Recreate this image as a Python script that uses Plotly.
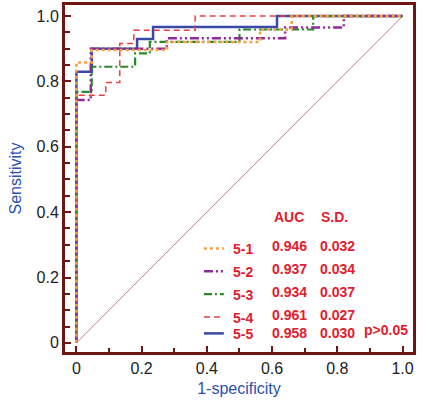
import plotly.graph_objects as go

# ROC step curves (1-specificity, sensitivity)
fpr_51 = [0, 0, 0.047, 0.278, 0.563, 0.66, 1.0]
tpr_51 = [0, 0.858, 0.896, 0.921, 0.959, 1.0, 1.0]
fpr_52 = [0, 0, 0.044, 0.277, 0.64, 0.82, 1.0]
tpr_52 = [0, 0.743, 0.90, 0.932, 0.965, 1.0, 1.0]
fpr_53 = [0, 0, 0.047, 0.18, 0.225, 0.5, 0.726, 1.0]
tpr_53 = [0, 0.768, 0.845, 0.886, 0.921, 0.959, 1.0, 1.0]
fpr_54 = [0, 0, 0.09, 0.133, 0.176, 0.364, 1.0]
tpr_54 = [0, 0.758, 0.797, 0.916, 0.957, 1.0, 1.0]
fpr_55 = [0, 0, 0.047, 0.186, 0.235, 0.615, 1.0]
tpr_55 = [0, 0.83, 0.90, 0.93, 0.967, 1.0, 1.0]
diag = [0, 1]

names = ["5-1", "5-2", "5-3", "5-4", "5-5"]
auc = ["0.946", "0.937", "0.934", "0.961", "0.958"]
sd = ["0.032", "0.034", "0.037", "0.027", "0.030"]
tick_vals = [0, 0.2, 0.4, 0.6, 0.8, 1.0]
tick_text = ["0", "0.2", "0.4", "0.6", "0.8", "1.0"]

colors = {"5-1": "#f5a04a", "5-2": "#8e2a9a", "5-3": "#2a8a2a", "5-4": "#e84040", "5-5": "#3a48a8"}
dashes = {"5-1": "dot", "5-2": "9px,3px,2px,3px,2px,3px", "5-3": "8px,3px,2px,3px",
          "5-4": "6px,4px", "5-5": "solid"}
widths = {"5-1": 2.5, "5-2": 2.5, "5-3": 2.2, "5-4": 1.5, "5-5": 2.5}
series = {"5-1": (fpr_51, tpr_51), "5-2": (fpr_52, tpr_52), "5-3": (fpr_53, tpr_53),
          "5-4": (fpr_54, tpr_54), "5-5": (fpr_55, tpr_55)}

fig = go.Figure()
fig.add_trace(go.Scatter(x=diag, y=diag, mode="lines", line=dict(color="#c08080", width=1),
                         showlegend=False, hoverinfo="skip"))
for n in ["5-5", "5-4", "5-3", "5-2", "5-1"]:
    x, y = series[n]
    fig.add_trace(go.Scatter(x=x, y=y, mode="lines", line_shape="hv", name=n,
                             line=dict(color=colors[n], width=widths[n], dash=dashes[n]),
                             showlegend=False))

red = "#e0202c"
tfont = dict(family="Liberation Sans, Arial", size=14, color=red)
row_y = [0.296, 0.226, 0.156, 0.086, 0.030]
label_y = [0.287, 0.217, 0.147, 0.077, 0.026]
line_y = [0.289, 0.219, 0.149, 0.079, 0.029]
ann = [
    dict(x=0.652, y=0.386, text="<b>AUC</b>", showarrow=False, font=tfont, xanchor="center", yanchor="middle"),
    dict(x=0.79, y=0.386, text="<b>S.D.</b>", showarrow=False, font=tfont, xanchor="center", yanchor="middle"),
    dict(x=0.95, y=0.040, text="<b>p>0.05</b>", showarrow=False, font=tfont, xanchor="center", yanchor="middle"),
]
shapes = []
for i, n in enumerate(names):
    ann.append(dict(x=0.474, y=label_y[i], text="<b>%s</b>" % n, showarrow=False, font=tfont,
                    xanchor="left", yanchor="middle"))
    ann.append(dict(x=0.652, y=row_y[i], text="<b>%s</b>" % auc[i], showarrow=False, font=tfont,
                    xanchor="center", yanchor="middle"))
    ann.append(dict(x=0.799, y=row_y[i], text="<b>%s</b>" % sd[i], showarrow=False, font=tfont,
                    xanchor="center", yanchor="middle"))
    shapes.append(dict(type="line", xref="x", yref="y", x0=0.391, x1=0.452, y0=line_y[i], y1=line_y[i],
                       line=dict(color=colors[n], width=widths[n], dash=dashes[n])))

frame = "#6e1616"
fig.update_layout(
    width=423, height=401,
    margin=dict(l=65, r=10, t=5, b=49),
    paper_bgcolor="white", plot_bgcolor="white",
    font=dict(family="Liberation Sans, Arial", size=16, color="#222222"),
    annotations=ann, shapes=shapes,
    xaxis=dict(range=[-0.035, 1.032], tickvals=tick_vals, ticktext=tick_text, automargin=False,
               ticks="inside", ticklen=6, tickwidth=1.5, tickcolor=frame,
               minor=dict(dtick=0.1, tick0=0, ticks="inside", ticklen=4, tickwidth=1.5, tickcolor=frame),
               showline=True, linecolor=frame, linewidth=3, mirror=True,
               showgrid=False, zeroline=False,
               title=dict(text="1-specificity", font=dict(color="#2a50b0", size=16), standoff=7)),
    yaxis=dict(range=[-0.028, 1.034], tickvals=tick_vals, ticktext=tick_text, automargin=False,
               ticks="inside", ticklen=6, tickwidth=1.5, tickcolor=frame,
               minor=dict(dtick=0.05, tick0=0, ticks="inside", ticklen=5, tickwidth=1.5, tickcolor=frame),
               showline=True, linecolor=frame, linewidth=3, mirror=True,
               showgrid=False, zeroline=False,
               title=dict(text="Sensitivity", font=dict(color="#2a50b0", size=16), standoff=11)),
)
fig.write_html("out.html", config={"displayModeBar": False},
               post_script="document.body.style.margin='0px';")
